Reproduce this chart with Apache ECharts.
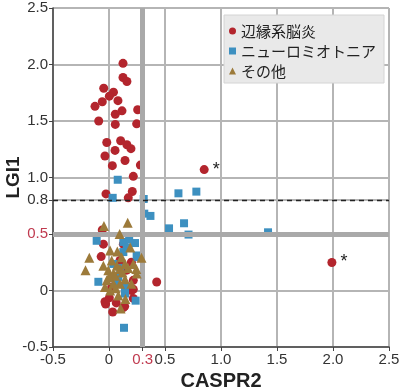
<!DOCTYPE html>
<html><head><meta charset="utf-8">
<script src="https://cdn.jsdelivr.net/npm/echarts@6/dist/echarts.min.js"></script>
<style>html,body{margin:0;padding:0;background:#fff}#c{width:400px;height:392px}</style>
</head><body><div id="c"></div>
<script>
// LGI1 vs CASPR2 antibody index
const seriesNames = ['辺縁系脳炎', 'ニューロミオトニア', 'その他'];
const xTicks = [-0.5, 0, 0.3, 0.5, 1.0, 1.5, 2.0, 2.5];
const yTicks = [-0.5, 0, 0.5, 0.8, 1.0, 1.5, 2.0, 2.5];
const cutoffX = 0.3;
const cutoffY = 0.5;
const dashedY = 0.8;
const limbic = [
  [0.125,2.01],[0.125,1.885],[0.16,1.85],[-0.047,1.79],[0.04,1.755],[0.003,1.72],[-0.06,1.67],
  [-0.125,1.63],[0.08,1.68],[0.116,1.59],[0.056,1.56],[0.256,1.60],[-0.092,1.50],[0.056,1.47],
  [0.247,1.475],[-0.02,1.31],[0.104,1.325],[0.16,1.29],[0.196,1.255],[0.054,1.24],[-0.036,1.19],
  [0.143,1.15],[0.03,1.105],[0.28,1.11],[0.217,1.01],[-0.027,0.855],[0.208,0.876],[0.172,0.82],
  [0.85,1.07],[1.99,0.248],
  [-0.06,0.535],[-0.05,0.41],[-0.07,0.30],[0.426,0.075],[-0.03,-0.12],[0.033,-0.19],[0.065,-0.11],
  [0.14,-0.14],[0.217,-0.07],[0.217,0.01],[0.2,0.25],[0.003,-0.065],[0.098,0.265],[0.217,0.09],
  [0.158,0.18],[0.024,0.03],[0.128,0.41],[-0.036,-0.10],[0.128,-0.15],[0.2,0.0]
];
const limbicStarred = [28, 29];
const neuromyotonia = [
  [0.078,0.98],[0.033,0.82],[0.31,0.81],[0.62,0.86],[0.78,0.875],[0.315,0.68],[0.37,0.66],
  [0.536,0.55],[0.67,0.595],[0.71,0.495],[1.42,0.515],
  [-0.11,0.44],[0.128,0.43],[0.18,0.45],[0.232,0.42],[0.158,0.38],[0.26,0.295],[-0.095,0.077],
  [0.238,-0.09],[0.134,-0.33],[0.04,0.235],[0.143,0.024],[0.143,-0.027],[0.128,0.34],[0.083,0.12],
  [0.247,0.31],[0.1,0.2],[0.06,0.08]
];
const others = [
  [-0.045,0.57],[0.167,0.60],[0.095,0.50],[-0.176,0.29],[-0.21,0.18],[0.01,0.355],[0.074,0.345],
  [0.29,0.29],[0.244,0.19],[0.104,-0.16],[0.146,-0.075],[0.19,0.38],[-0.05,0.22],[-0.006,0.18],
  [0.04,0.15],[0.098,0.19],[0.143,0.235],[0.217,0.235],[0.247,0.15],[-0.02,0.09],[0.04,0.06],
  [0.098,0.06],[0.01,0.0],[-0.036,0.03],[0.143,0.10],[0.2,0.06],[0.083,-0.045],[0.054,0.13],
  [0.024,0.265],[0.113,0.295],[0.07,0.22],[0.0,0.12],[0.12,0.16],[0.06,0.02],[0.17,0.2]
];

const RED = '#b3252d', BLUE = '#3d90c0', BROWN = '#9c7a3a';
const fmt = v => { v = Number(v); return v === 0 ? '0' : v.toFixed(1); };
const labelFont = { fontFamily: 'Liberation Sans', fontSize: 15 };

const chart = echarts.init(document.getElementById('c'));
chart.setOption({
  animation: false,
  grid: { left: 53, right: 11, top: 8, bottom: 45, containLabel: false, outerBoundsMode: 'none' },
  legend: {
    orient: 'vertical', left: 224, top: 15,
    backgroundColor: '#e9e9e9', borderColor: '#d4d4d4', borderWidth: 1,
    padding: [8, 8, 4, 5], itemGap: 4, itemWidth: 7, itemHeight: 7,
    textStyle: { fontFamily: 'Noto Sans CJK JP', fontSize: 15, color: '#222', lineHeight: 16 },
    data: [
      { name: seriesNames[0], icon: 'circle' },
      { name: seriesNames[1], icon: 'rect' },
      { name: seriesNames[2], icon: 'triangle' }
    ]
  },
  xAxis: {
    type: 'value', min: -0.5, max: 2.5, interval: 0.5,
    name: 'CASPR2', nameLocation: 'middle', nameGap: 24, nameMoveOverlap: false,
    nameTextStyle: { fontFamily: 'Liberation Sans', fontSize: 20, fontWeight: 'bold', color: '#222' },
    axisLine: { show: true, onZero: false, lineStyle: { color: '#444', width: 1.5 } },
    axisTick: { show: true, length: 4, customValues: xTicks, lineStyle: { color: '#444' } },
    axisLabel: Object.assign({ customValues: xTicks, margin: 5, formatter: fmt,
      color: v => Math.abs(Number(v) - cutoffX) < 1e-6 ? '#c03a4f' : '#333' }, labelFont),
    splitLine: { show: true, lineStyle: { color: '#b5b5b5', width: 2 } }
  },
  yAxis: {
    type: 'value', min: -0.5, max: 2.5, interval: 0.5,
    name: 'LGI1', nameLocation: 'middle', nameGap: 30, nameMoveOverlap: false,
    nameTextStyle: { fontFamily: 'Liberation Sans', fontSize: 19, fontWeight: 'bold', color: '#222' },
    axisLine: { show: true, onZero: false, lineStyle: { color: '#444', width: 1.5 } },
    axisTick: { show: true, length: 4, customValues: yTicks, lineStyle: { color: '#444' } },
    axisLabel: Object.assign({ customValues: yTicks, margin: 5, formatter: fmt,
      color: v => Math.abs(Number(v) - cutoffY) < 1e-6 ? '#c03a4f' : '#333' }, labelFont),
    splitLine: { show: true, lineStyle: { color: '#b5b5b5', width: 2 } }
  },
  series: [
    {
      type: 'scatter', data: [], z: 1, silent: true,
      markLine: {
        silent: true, symbol: 'none', label: { show: false }, animation: false,
        data: [
          { xAxis: cutoffX, lineStyle: { color: '#a9a9a9', width: 5, type: 'solid' } },
          { yAxis: cutoffY, lineStyle: { color: '#a9a9a9', width: 5, type: 'solid' } },
          { yAxis: dashedY, lineStyle: { color: '#222', width: 1.3, type: [5, 4] } }
        ]
      }
    },
    {
      name: seriesNames[0], type: 'scatter', symbol: 'circle', symbolSize: 9, z: 3,
      itemStyle: { color: RED, opacity: 1 },
      data: limbic.map((p, i) => limbicStarred.includes(i)
        ? { value: p, label: { show: true, formatter: '*', position: 'right', distance: 4,
            fontFamily: 'Liberation Sans', fontSize: 18, color: '#222' } }
        : p)
    },
    {
      name: seriesNames[1], type: 'scatter', symbol: 'rect', symbolSize: 8, z: 4,
      itemStyle: { color: BLUE, opacity: 1 },
      data: neuromyotonia
    },
    {
      name: seriesNames[2], type: 'scatter', symbol: 'triangle', symbolSize: 10, z: 5,
      itemStyle: { color: BROWN, opacity: 1 },
      data: others
    }
  ]
});
</script></body></html>
